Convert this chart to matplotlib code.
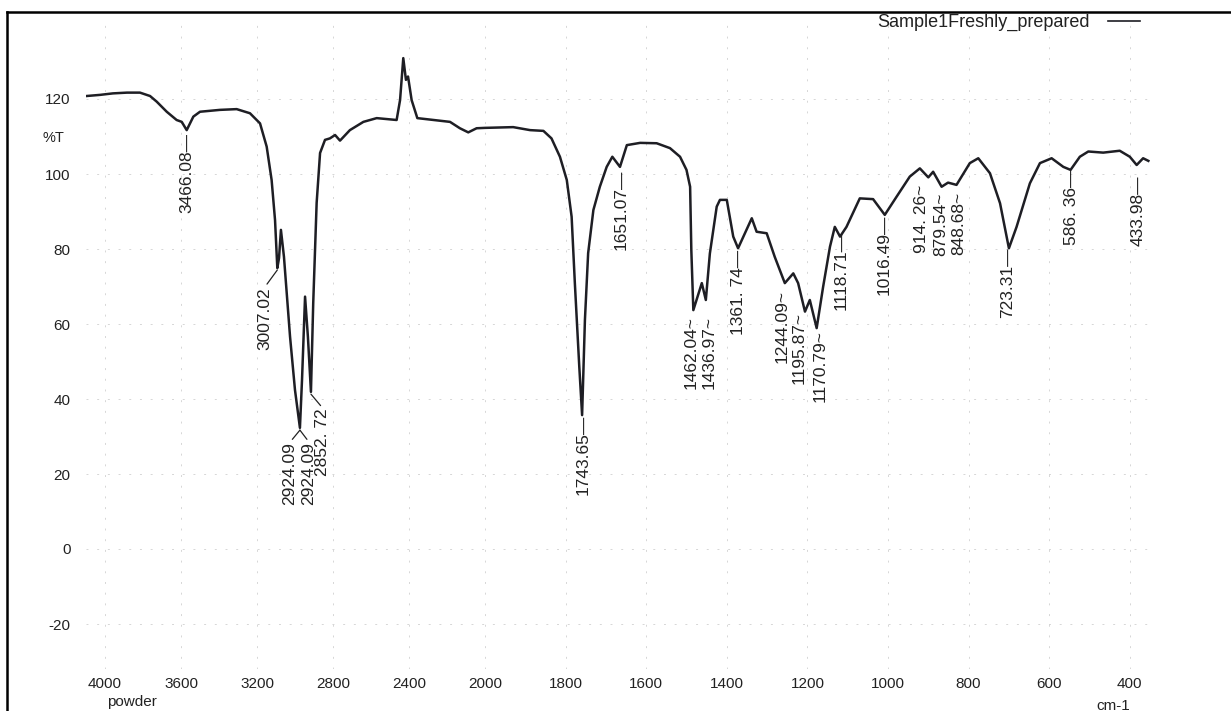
import numpy as np
import matplotlib.pyplot as plt
from matplotlib.lines import Line2D

plt.rcParams['font.family'] = ['Liberation Sans', 'DejaVu Sans']
plt.rcParams['axes.unicode_minus'] = False

# spectrum (wavenumber cm-1, %T)
wavenumber = [4096, 4026, 3958, 3884, 3816, 3763, 3728, 3675, 3623, 3596,
              3570, 3535, 3500, 3395, 3307, 3237, 3184, 3149, 3123, 3105,
              3093, 3084, 3074, 3058, 3026, 3000, 2974, 2963, 2947, 2932,
              2916, 2904, 2886, 2868, 2842, 2816, 2789, 2763, 2711, 2640,
              2570, 2465, 2447, 2430, 2416, 2405, 2386, 2356, 2272, 2184,
              2132, 2088, 2044, 2000, 1930, 1888, 1855, 1835, 1814, 1797,
              1785, 1777, 1766, 1759, 1752, 1744, 1731, 1715, 1698, 1684,
              1665, 1648, 1615, 1574, 1541, 1516, 1500, 1491, 1488, 1483,
              1462, 1452, 1442, 1425, 1417, 1400, 1384, 1372, 1355, 1338,
              1326, 1301, 1281, 1256, 1235, 1223, 1206, 1194, 1177, 1161,
              1144, 1132, 1119, 1103, 1070, 1037, 1008, 979, 946, 921,
              900, 888, 867, 851, 830, 797, 776, 747, 722, 700,
              681, 648, 623, 594, 565, 547, 524, 503, 466, 425,
              400, 383, 367, 354]
transmittance = [120.8, 121.1, 121.5, 121.7, 121.7, 120.8, 119.3, 116.6, 114.4, 113.9,
                 111.7, 115.3, 116.6, 117.1, 117.3, 116.2, 113.5, 107.3, 98.4, 87.7,
                 74.9, 77.6, 85.1, 77.9, 56.6, 42.4, 32.3, 45.1, 67.3, 56.6,
                 41.9, 65.6, 92.3, 105.6, 109.1, 109.5, 110.4, 108.9, 111.7, 113.9,
                 114.9, 114.4, 119.7, 130.9, 125.1, 126.0, 119.7, 114.9, 114.4, 113.9,
                 112.2, 111.1, 112.2, 112.3, 112.5, 111.7, 111.5, 109.5, 104.6, 98.4,
                 88.6, 70.9, 48.6, 35.7, 61.1, 78.9, 90.4, 96.6, 101.9, 104.6,
                 101.9, 107.7, 108.3, 108.2, 106.9, 104.6, 101.1, 96.6, 79.7, 63.7,
                 70.9, 66.4, 78.8, 91.3, 93.1, 93.1, 83.3, 80.2, 84.2, 88.2,
                 84.6, 84.2, 77.9, 70.9, 73.5, 70.9, 63.3, 66.4, 58.9, 69.9,
                 80.6, 85.9, 83.3, 85.9, 93.5, 93.3, 89.1, 93.9, 99.3, 101.5,
                 99.1, 100.6, 96.6, 97.7, 97.1, 102.9, 104.2, 100.2, 92.2, 80.2,
                 85.9, 97.5, 102.9, 104.2, 101.9, 101.1, 104.6, 106.0, 105.7, 106.2,
                 104.6, 102.4, 104.2, 103.5]

x_ticks = [4000, 3600, 3200, 2800, 2400, 2000, 1800, 1600, 1400, 1200, 1000, 800, 600, 400]
y_ticks = [-20, 0, 20, 40, 60, 80, 100, 120]

# peak labels that sit straight under their band
peak_labels = ["3466.08\u2014", "1743.65\u2014", "1651.07\u2014", "1462.04~", "1436.97~",
               "1361. 74\u2014", "1244.09~", "1195.87~", "1170.79~", "1118.71\u2014",
               "1016.49\u2014", "914. 26~", "879.54~", "848.68~", "723.31\u2014",
               "586. 36\u2014", "433.98\u2014"]
peak_label_pos = [(3568, 110.9), (1757, 35.7), (1663, 101.1), (1489, 62.2), (1444, 62.2),
                  (1372, 79.7), (1263, 69.1), (1221, 63.2), (1169, 58.4), (1117, 84.5),
                  (1010, 89.1), (918, 97.1), (869, 94.9), (824, 95.2), (702, 80.3),
                  (544, 101.1), (380, 99.7)]

# labels joined to their band by a leader line
leader_labels = ["3007.02", "2924.09", "2924.09", "2852. 72"]
leader_from = [(3093, 74.4), (2974, 31.7), (2974, 31.7), (2916, 41.3)]
leader_to = [(3158, 69.9), (3026, 28.5), (2926, 28.5), (2853, 37.5)]

K = 0.4714  # the chart is compressed above 2000 cm-1


def fwd(w):
    w = np.asarray(w, dtype=float)
    return np.where(w > 2000, 2000 + (w - 2000) * K, w)


def inv(u):
    u = np.asarray(u, dtype=float)
    return np.where(u > 2000, 2000 + (u - 2000) / K, u)


W, H = 1231, 711
fig = plt.figure(figsize=(W / 100, H / 100), dpi=100)
ax = fig.add_axes([86 / W, 1 - 669 / H, (1154 - 86) / W, (669 - 24) / H])
ax.set_xscale('function', functions=(fwd, inv))

line_col = '#1e1e24'
text_col = '#222222'
ax.plot(wavenumber, transmittance, color=line_col, lw=1.8)
ax.set_xlim(4100, 340)
ax.set_ylim(-32, 140)
ax.set_xticks(x_ticks)
ax.set_xticklabels([str(t) for t in x_ticks])
ax.set_yticks(y_ticks)
ax.set_yticklabels([str(t) for t in y_ticks])
ax.grid(True, color='#d6d6d6', lw=0.7, ls=(0, (2, 9)))
for s in ax.spines.values():
    s.set_visible(False)
ax.tick_params(axis='x', length=0, pad=6, labelsize=11, labelcolor=text_col)
ax.tick_params(axis='y', length=0, pad=11, labelsize=11, labelcolor=text_col)

for txt, (lx, ly) in zip(peak_labels, peak_label_pos):
    ax.text(lx, ly, txt, rotation=90, ha='center', va='top', fontsize=12.5, color=text_col)

for txt, p, q in zip(leader_labels, leader_from, leader_to):
    ax.annotate(txt, xy=p, xytext=q, rotation=90, ha='center', va='top',
                fontsize=12.5, color=text_col,
                arrowprops=dict(arrowstyle='-', lw=0.9, color=text_col,
                                relpos=(0.5, 1.0), shrinkA=0, shrinkB=0))

handle = Line2D([], [], color=line_col, lw=1.2)
ax.legend([handle], ['Sample1Freshly_prepared'], loc='upper right',
          bbox_to_anchor=(1140 / W, 1 - 14 / H), bbox_transform=fig.transFigure,
          frameon=False, markerfirst=False, handlelength=1.8, handletextpad=1.0,
          borderpad=0, borderaxespad=0, fontsize=13, labelcolor=text_col)

fig.text(53 / W, 1 - 138 / H, '%T', ha='center', va='center', fontsize=10.5, color=text_col)
fig.text(132 / W, 1 - 702 / H, 'powder', ha='center', va='center', fontsize=11, color=text_col)
fig.text(1113 / W, 1 - 706 / H, 'cm-1', ha='center', va='center', fontsize=11, color=text_col)

# page border of the scan
fig.add_artist(Line2D([7 / W, 1], [1 - 12 / H, 1 - 12 / H], transform=fig.transFigure, color='k', lw=1.8))
fig.add_artist(Line2D([7 / W, 7 / W], [0, 1 - 12 / H], transform=fig.transFigure, color='k', lw=1.8))

fig.savefig('out.png', dpi=100)
